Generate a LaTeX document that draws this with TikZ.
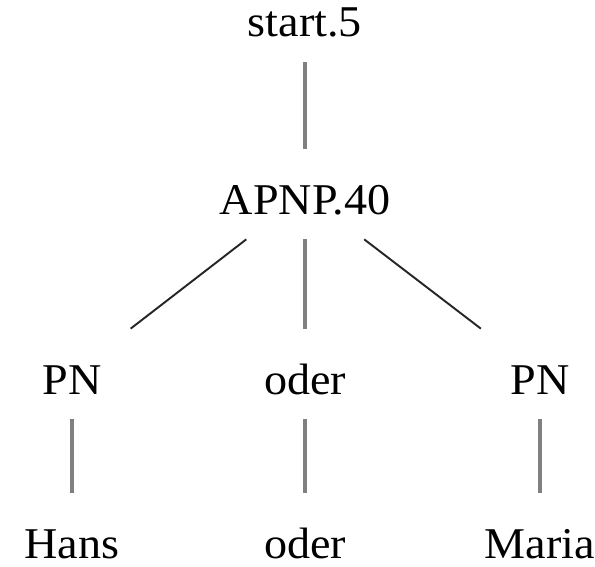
\documentclass[tikz,border=0pt]{standalone}
\usepackage{fontspec}
\setmainfont{Liberation Serif}[FakeStretch=1.05]
\usepackage{tikz}
\usetikzlibrary{positioning}

\begin{document}
\begin{tikzpicture}[node distance=3.5cm, on grid,
    word/.style={inner sep=0pt, minimum width=3cm, text height=1.3cm, text depth=0.5cm, font=\fontsize{25}{30}\selectfont},
    leaf/.style={word, text depth=0.1cm},
    vline/.style={draw=black!50, line width=1.8pt},
    dline/.style={draw=black!85, line width=1.1pt}]

    \useasboundingbox (0,0) rectangle (11.9,-11.32);

    \node[word] (start) at (6.1,-0.34) {start.5};
    \node[word, below=3.54cm of start] (apnp) {APNP.40};
    \node[word, below left=3.6cm and 4.66cm of apnp] (pnl) {PN};
    \node[word, below=3.6cm of apnp] (oder) {oder};
    \node[word, below right=3.6cm and 4.7cm of apnp] (pnr) {PN};
    \node[leaf, below=3.08cm of pnl] (hans) {Hans};
    \node[leaf, below=3.08cm of oder] (oderw) {oder};
    \node[leaf, below=3.08cm of pnr] (maria) {Maria};

    \draw[vline] (start) -- (apnp);
    \draw[dline] (apnp) -- (pnl);
    \draw[vline] (apnp) -- (oder);
    \draw[dline] (apnp) -- (pnr);
    \draw[vline] (pnl) -- (hans);
    \draw[vline] (oder) -- (oderw);
    \draw[vline] (pnr) -- (maria);
\end{tikzpicture}
\end{document}
